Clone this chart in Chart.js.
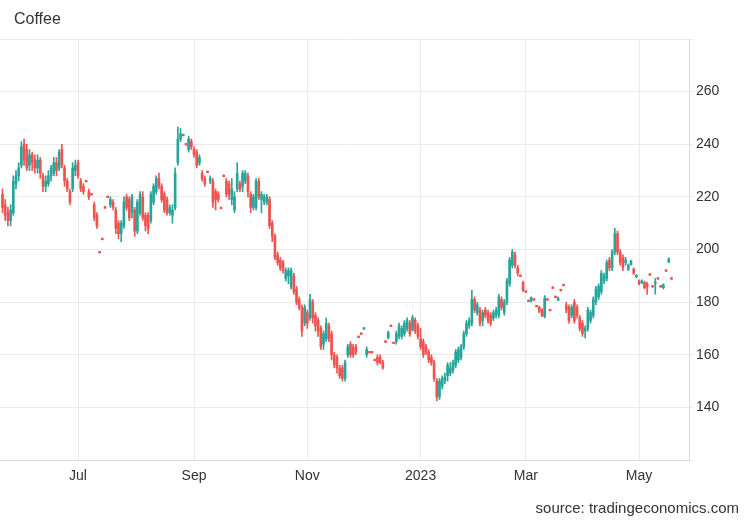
<!DOCTYPE html>
<html><head><meta charset="utf-8">
<script src="https://cdn.jsdelivr.net/npm/chart.js@4/dist/chart.umd.min.js"></script>
<style>html,body{margin:0;padding:0;background:#fff}#wrap{width:750px;height:520px;position:relative}</style>
</head><body><div id="wrap"><canvas id="c" width="750" height="520"></canvas></div>
<script>
const chartTitle = 'Coffee';
const sourceText = 'source: tradingeconomics.com';
const monthIdx = [28, 71, 113, 155, 194, 236];
const monthLabels = ['Jul', 'Sep', 'Nov', '2023', 'Mar', 'May'];
const yTickValues = [140, 160, 180, 200, 220, 240, 260];

const open = [
221,217,214,211,214,225,228,232,240,238,
232,236,234,231,234,228,224,225,228,229,
233,231,238,231,226,222,223,230,233,226,
224,226.3,222,221.3,217,213,199.3,204.3,216.3,220.3,
217,218,215,210,206,209,220,219,214,215,
207,214,220,213,213,211,218,222,227,224,
221,219,214,213,216,233,242,243.2,240.3,238,
241,238,237,233,229,227,229.8,226,226,222,
221,216.1,228.3,226,225,219,215,223,225,224,
226,228,221,216,216,226,219,218,218,219,
210,205,198,196,195,189,190,186,190,185,
181,178,172,176,174,180,175,173,170,164,
166,171,168,160,159,155,155,151,160,164,
163,163,167.1,168.3,169.7,160,161.3,161.3,158.3,159,
159,157,165.3,166.5,171.3,164.8,165,167,167,168,
170,172,169.5,173,171,166,165,163,161,159,
157,150,144,148,150,152,153,154,156,158,
159,163,168,171,172,181,176,177,173,177,
176,175,174,175,175,181,176,180,187,194,
198,193,190.3,187.5,184.3,180.8,180.5,181.3,178.8,178,
177,174.5,181.3,177.3,185.8,182.3,180.8,184.9,186.8,179,
178,175,180,178,174,172,169,170,173,175,
180,182,184,188,189,196,193,199,206,199,
197,195,192.5,194.3,192.5,189.6,188,187.5,187.5,187,
190.8,186.3,187,189.3,186.3,185.5,192.3,195.2,189.3];

const close = [
216,213,211,215,226,228,231,239,234,231,
236,233,231,234,229,224,226,228,231,233,
230,237,232,226,223,218,231,232,228,223,
222,225.7,220,220.7,212,209,198.7,203.7,215.7,219.7,
219,216,208,206,210,218,216,212,220,207,
218,221,212,209,208,221,224,227,224,219,
215,214,216,215,229,242,244,243.8,239.7,242,
239,236,232,235,227,225,229.2,227,218,219,
219,215.5,227.7,221,221,223,220,229,223,229,
229,222,216,220,226,220,221,220,220,209,
205,197,195,193,192,192,192,192,184,180,
178,169,178,172,181,174,171,169,163,168,
172,166,160,156,155,152,151,157,163,160,
160,161,166.5,167.7,170.3,162,160.7,160.7,157.7,157,
157,155,164.7,168.5,170.7,164.2,168,171,170,172,
173,168,174,169,167,163,160,161,158,157,
151,144,150,151,151.5,156,155,157,161,162,
163,168,172,173,181,177,179,172,176,175,
173,172,176,177,182,178,180,188,196,199,
194,191,189.7,184.5,183.7,180.2,181.8,180.7,178.2,176.5,
175,181.5,180.7,176.7,185.2,181.7,181.5,184.3,186.2,177,
173,178,173,175,170,168,170,177,176,181,
185,186,191,190,195,193,199,206,199,195,
193,196,194,195.6,191,190.2,187,188,185.5,186,
190.2,185.7,187.5,188.7,185.7,186.5,191.7,196.4,188.7];

const high = [
223,219,216,217,228,230,233,241,242,240,
238,237,236,236,235,229,228,230,232,235,
235,238,240,232,227,223,233,234,234,227,
225,226.3,223,221.3,218,214,199.3,204.3,216.3,220.3,
220,219,216,211,211,220,221,220,221,216,
219,222,222,214,214,222,225,228,229,225,
222,220,217,217,231,246.5,246,243.8,240.3,243,
242,239,238,236,230,228,229.8,228,227,223,
222,216.1,228.3,227,226,227,222,233,226,230,
230,229,222,221,227,227,222,221,221,220,
211,206,199,197,196,193,193,193,191,186,
182,179,179,177,183,181,176,174,171,169,
174,172,169,161,160,156,156,158,164,165,
164,164,167.1,168.3,170.3,163,161.3,161.3,158.3,160,
160,158,165.3,169,171.3,164.8,169,172,171,173,
174,173,175,174,172,170,166,164,162,160,
158,151,151,152,153,157,157,158,162,163,
164,169,173,174,184.5,182,180,178,177,178,
177,176,177,178,183,182,181,189,197,200,
199,194,190.3,188,184.3,180.8,182,181.3,178.8,178.5,
177.5,182.5,181.3,177.3,185.8,182.3,182,184.9,186.8,180,
179,179,181,179,175,173,171,178,177,182,
186,187,192,191,196,197,200,208,207,200,
198,197,194.5,196,193,190.5,188.5,188.5,188,187.5,
190.8,186.3,189,189.3,186.3,187,192.3,196.8,189.3];

const low = [
214,211,209,209,213,223,226,231,232,230,
230,230,229,229,227,222,222,224,226,228,
228,230,231,224,222,217,222,228,227,222,
221,225.7,219,220.7,211,208,198.7,203.7,215.7,219.7,
216,215,206,204,203,208,215,211,212,205,
206,213,211,207,206,210,217,221,223,218,
214,213,213,210,215,232,241,243.2,239.7,237,
238,235,231,232,226,224,229.2,225,216,215,
218,215.5,227.7,220,219,217,214,222,222,222,
225,220,214,215,215,219,214,217,217,208,
203,196,194,192,191,188,187,185,183,179,
177,167,171,170,173,172,169,167,162,162,
165,165,158,155,153,151,150,150,159,159,
159,160,166.5,167.7,169.7,159,160.7,160.7,157.7,156,
156.5,154.5,164.7,166,170.7,164.2,164,166,166,167,
169,167,169,168,166,162,159,160,157,156,
150,142.5,143,147,149,150,152,153,155,157,
158,162,167,170,171,176,175,171,171,174,
172,171,173,174,174,177,175,179,186,193,
193,190,189.7,184,183.7,180.2,180,180.7,178.2,176,
174.5,174,180.7,176.7,185.2,181.7,180.5,184.3,186.2,176,
172,174,172,174,169,167,166.4,169,172,174,
179,181,183,187,188,192,192,198,198,194,
192,194,192,194,190.5,189.3,186.5,187,185,183,
190.2,185.7,183,188.7,185.7,185,191.7,195,188.7];

const UP = '#26a69a', DOWN = '#ef5350';
const FONT = "'Liberation Sans', Arial, Helvetica, sans-serif";
const colors = open.map((o, i) => close[i] >= o ? UP : DOWN);
const bodies = open.map((o, i) => ({ x: i, y: [o, close[i]] }));
const wicks = open.map((o, i) => ({ x: i, y: [low[i], high[i]] }));

const textPlugin = {
  id: 'texts',
  afterDraw(chart) {
    const ctx = chart.ctx;
    ctx.save();
    ctx.fillStyle = '#333';
    ctx.textBaseline = 'middle';
    ctx.font = '16px ' + FONT;
    ctx.textAlign = 'left';
    ctx.fillText(chartTitle, 14, 20);
    ctx.font = '15px ' + FONT;
    ctx.textAlign = 'right';
    ctx.fillText(sourceText, 739, 509);
    ctx.restore();
  }
};

new Chart(document.getElementById('c'), {
  type: 'bar',
  data: {
    datasets: [
      { data: bodies, backgroundColor: colors, barThickness: 2, minBarLength: 1.5, grouped: false, order: 0 },
      { data: wicks, backgroundColor: colors, barThickness: 1, grouped: false, order: 1 }
    ]
  },
  options: {
    responsive: false,
    animation: false,
    layout: { padding: { top: 39, left: 0, right: 0, bottom: 0 } },
    plugins: { legend: { display: false }, tooltip: { enabled: false }, title: { display: false } },
    scales: {
      x: {
        type: 'linear',
        min: -0.93,
        max: 254.5,
        offset: false,
        afterBuildTicks: s => { s.ticks = monthIdx.map(v => ({ value: v })); },
        afterFit: s => { s.height = 60; },
        ticks: {
          autoSkip: false, maxRotation: 0, padding: 8, color: '#333',
          font: { size: 14, family: FONT },
          callback: (v, i) => monthLabels[i]
        },
        grid: { color: '#ebebeb', drawTicks: false, offset: false },
        border: { display: true, color: '#d9d9d9' }
      },
      y: {
        position: 'right',
        min: 120,
        max: 280,
        afterBuildTicks: s => { s.ticks = [120].concat(yTickValues, [280]).map(v => ({ value: v })); },
        afterFit: s => { s.width = 61; },
        ticks: {
          padding: 3, color: '#333', font: { size: 14, family: FONT },
          callback: v => yTickValues.includes(v) ? String(v) : ''
        },
        grid: { color: '#ebebeb', tickLength: 4 },
        border: { display: true, color: '#d9d9d9' }
      }
    }
  },
  plugins: [textPlugin]
});
</script>
</body></html>
